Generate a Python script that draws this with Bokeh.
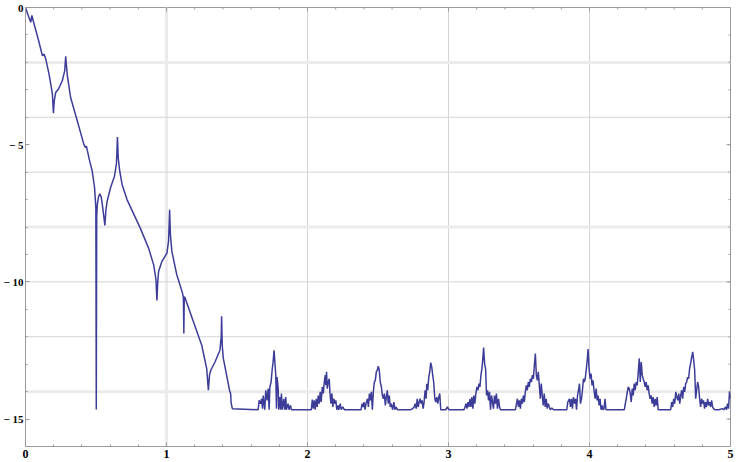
import math
from bokeh.plotting import figure
from bokeh.models import FixedTicker, Span, Range1d
from bokeh.embed import file_html
from bokeh.resources import INLINE

# ---- data (x, y) ----
decay = [(0.0, 0.0), (0.02, -0.3), (0.037, -0.54), (0.045, -0.29), (0.061, -0.6), (0.09, -1.15),
         (0.12, -1.76), (0.132, -1.70), (0.144, -1.88), (0.167, -2.43), (0.191, -3.16), (0.198, -3.85),
         (0.204, -3.4), (0.214, -3.10), (0.233, -2.98), (0.261, -2.67), (0.278, -2.31), (0.285, -1.78),
         (0.290, -2.1), (0.297, -2.49), (0.320, -3.28), (0.367, -4.13), (0.414, -4.99), (0.426, -5.11),
         (0.432, -5.05), (0.438, -5.2), (0.454, -5.57), (0.473, -5.96), (0.49, -6.57), (0.499, -7.31),
         (0.502, -14.65), (0.505, -7.6), (0.510, -7.15), (0.518, -6.9), (0.527, -6.79), (0.537, -6.9),
         (0.548, -7.3), (0.563, -7.94), (0.570, -7.4), (0.579, -7.06), (0.603, -6.57), (0.631, -6.15),
         (0.645, -5.7), (0.652, -4.72), (0.658, -5.5), (0.668, -5.95), (0.685, -6.45), (0.72, -7.0),
         (0.814, -8.04), (0.873, -8.77), (0.909, -9.38), (0.925, -9.9), (0.932, -10.68), (0.938, -10.0),
         (0.944, -9.62), (0.967, -9.26), (1.003, -8.95), (1.015, -8.5), (1.022, -7.37), (1.028, -8.3),
         (1.038, -8.89), (1.073, -9.74), (1.114, -10.42), (1.120, -10.6), (1.123, -11.88), (1.126, -10.55),
         (1.130, -10.56), (1.191, -11.45), (1.25, -12.31), (1.285, -13.16), (1.297, -13.95), (1.305, -13.4),
         (1.314, -13.22), (1.344, -12.92), (1.379, -12.49), (1.388, -12.0), (1.391, -11.25), (1.395, -12.3),
         (1.403, -12.79), (1.438, -13.71), (1.447, -13.95), (1.455, -14.08), (1.458, -14.4), (1.467, -14.62)]

cluster1 = [(1.650, -14.66), (1.657, -14.32), (1.667, -14.44), (1.674, -14.26), (1.681, -14.62), (1.686, -14.14),
            (1.697, -14.66), (1.704, -13.95), (1.714, -14.32), (1.721, -13.89), (1.728, -14.66), (1.733, -13.83),
            (1.742, -13.65), (1.749, -13.22), (1.756, -12.92), (1.763, -12.49), (1.770, -13.04), (1.775, -13.40),
            (1.780, -14.62), (1.784, -13.47), (1.792, -13.89), (1.796, -14.66), (1.803, -14.20), (1.810, -14.66),
            (1.815, -14.07), (1.822, -14.66), (1.832, -14.26), (1.839, -14.66), (1.846, -14.20), (1.850, -14.66),
            (1.862, -14.44), (1.869, -14.66), (1.879, -14.50), (1.886, -14.66)]

cluster2 = [(2.027, -14.66), (2.034, -14.29), (2.041, -14.62), (2.048, -14.32), (2.055, -14.66), (2.062, -14.26),
            (2.069, -14.56), (2.076, -14.14), (2.083, -14.44), (2.090, -14.01), (2.097, -14.38), (2.105, -13.83),
            (2.112, -14.07), (2.119, -13.65), (2.126, -13.40), (2.130, -13.77), (2.135, -13.28), (2.140, -13.89),
            (2.147, -13.65), (2.154, -13.53), (2.159, -14.01), (2.166, -14.44), (2.173, -14.07), (2.180, -14.56),
            (2.187, -14.26), (2.194, -14.44), (2.201, -14.32), (2.208, -14.66), (2.215, -14.50), (2.222, -14.66),
            (2.232, -14.44), (2.239, -14.66), (2.250, -14.56), (2.262, -14.66)]

cluster3 = [(2.380, -14.66), (2.387, -14.44), (2.394, -14.56), (2.401, -14.38), (2.408, -14.66), (2.415, -14.44),
            (2.425, -14.26), (2.432, -14.56), (2.439, -14.07), (2.446, -14.32), (2.453, -14.01), (2.460, -14.66),
            (2.467, -14.01), (2.474, -13.65), (2.481, -13.59), (2.488, -13.28), (2.495, -13.22), (2.502, -13.07),
            (2.509, -13.22), (2.516, -13.65), (2.524, -13.83), (2.531, -14.14), (2.538, -14.26), (2.545, -14.07),
            (2.552, -14.50), (2.559, -14.20), (2.566, -13.95), (2.573, -14.44), (2.580, -14.14), (2.587, -14.56),
            (2.594, -14.44), (2.604, -14.66), (2.613, -14.38), (2.620, -14.66), (2.627, -14.56), (2.639, -14.66)]

cluster4 = [(2.733, -14.66), (2.745, -14.62), (2.757, -14.56), (2.764, -14.44), (2.771, -14.62), (2.778, -14.26),
            (2.785, -14.56), (2.792, -14.38), (2.799, -14.26), (2.806, -14.44), (2.813, -14.32), (2.820, -14.62),
            (2.827, -14.38), (2.834, -13.95), (2.841, -14.26), (2.846, -13.71), (2.853, -13.95), (2.860, -13.47),
            (2.867, -13.28), (2.874, -12.94), (2.881, -13.10), (2.888, -13.40), (2.895, -13.65), (2.903, -14.26),
            (2.910, -14.38), (2.917, -14.20), (2.924, -14.44), (2.931, -14.20), (2.938, -14.07), (2.945, -14.66),
            (2.980, -14.66), (2.992, -14.56), (3.004, -14.66)]

cluster5 = [(3.110, -14.66), (3.117, -14.56), (3.124, -14.44), (3.131, -14.62), (3.138, -14.38), (3.145, -14.56),
            (3.152, -14.26), (3.159, -14.56), (3.166, -14.20), (3.173, -14.62), (3.180, -14.14), (3.187, -14.44),
            (3.194, -14.07), (3.202, -13.83), (3.209, -13.95), (3.216, -13.71), (3.223, -13.83), (3.230, -13.40),
            (3.237, -13.16), (3.244, -12.79), (3.249, -12.39), (3.256, -12.98), (3.263, -13.16), (3.270, -14.14),
            (3.277, -13.95), (3.284, -14.32), (3.291, -14.01), (3.298, -14.66), (3.305, -14.14), (3.312, -14.38),
            (3.319, -14.62), (3.326, -14.14), (3.333, -14.44), (3.340, -14.07), (3.347, -14.62), (3.355, -14.26),
            (3.362, -14.56), (3.369, -14.66), (3.392, -14.66)]

cluster6 = [(3.475, -14.66), (3.482, -14.44), (3.489, -14.26), (3.496, -14.56), (3.503, -14.32), (3.510, -14.62),
            (3.517, -14.26), (3.524, -14.44), (3.531, -14.14), (3.538, -14.38), (3.545, -14.01), (3.552, -13.77),
            (3.559, -13.95), (3.566, -13.65), (3.573, -13.83), (3.580, -13.53), (3.588, -13.65), (3.595, -13.40),
            (3.602, -13.53), (3.609, -13.04), (3.616, -12.61), (3.623, -13.40), (3.630, -13.59), (3.637, -13.28),
            (3.644, -13.77), (3.651, -14.26), (3.658, -13.71), (3.665, -14.14), (3.672, -14.50), (3.679, -14.07),
            (3.686, -14.56), (3.693, -14.26), (3.700, -14.62), (3.708, -14.44), (3.715, -14.56), (3.722, -14.66),
            (3.733, -14.60), (3.745, -14.66), (3.839, -14.66)]

cluster7 = [(3.846, -14.38), (3.858, -14.26), (3.865, -14.56), (3.872, -14.26), (3.879, -14.62), (3.886, -14.20),
            (3.894, -14.44), (3.901, -14.26), (3.908, -14.66), (3.915, -14.14), (3.922, -13.95), (3.929, -13.71),
            (3.936, -14.44), (3.943, -14.26), (3.950, -13.95), (3.957, -13.53), (3.964, -13.65), (3.971, -13.47),
            (3.978, -13.16), (3.985, -12.79), (3.990, -12.45), (3.997, -13.16), (4.004, -13.53), (4.011, -13.34),
            (4.018, -13.77), (4.025, -13.59), (4.032, -13.95), (4.040, -14.26), (4.047, -13.89), (4.054, -14.32),
            (4.061, -14.14), (4.068, -14.50), (4.075, -14.26), (4.082, -14.66), (4.089, -14.50), (4.096, -14.66),
            (4.103, -14.62), (4.110, -14.26), (4.117, -14.66), (4.129, -14.66)]

cluster8 = [(4.247, -14.66), (4.254, -14.44), (4.261, -14.26), (4.268, -14.01), (4.275, -13.83), (4.282, -13.89),
            (4.289, -14.07), (4.296, -14.38), (4.303, -13.89), (4.310, -14.14), (4.317, -13.71), (4.324, -13.95),
            (4.331, -13.65), (4.338, -13.77), (4.346, -13.28), (4.353, -12.79), (4.360, -13.65), (4.367, -12.92),
            (4.374, -13.40), (4.381, -13.53), (4.388, -13.65), (4.395, -13.83), (4.402, -13.65), (4.409, -13.95),
            (4.416, -13.77), (4.423, -14.07), (4.430, -14.26), (4.437, -14.14), (4.444, -14.44), (4.451, -14.20),
            (4.459, -14.56), (4.466, -14.26), (4.473, -14.50), (4.480, -14.20), (4.487, -14.66), (4.494, -14.66)]

cluster9 = [(4.576, -14.66), (4.583, -14.38), (4.590, -14.56), (4.597, -14.26), (4.604, -14.44), (4.612, -14.01),
            (4.619, -14.20), (4.626, -14.32), (4.633, -14.07), (4.640, -14.44), (4.647, -14.14), (4.654, -13.95),
            (4.661, -14.26), (4.668, -13.83), (4.675, -14.01), (4.682, -13.71), (4.689, -13.65), (4.696, -13.47),
            (4.703, -13.53), (4.710, -13.16), (4.717, -12.98), (4.725, -12.73), (4.732, -12.55), (4.739, -12.86),
            (4.746, -13.22), (4.753, -14.26), (4.760, -13.95), (4.767, -13.65), (4.774, -13.83), (4.781, -14.26),
            (4.788, -14.56), (4.795, -14.26), (4.802, -14.44), (4.809, -14.32), (4.816, -14.62), (4.823, -14.38),
            (4.830, -14.56), (4.838, -14.26), (4.845, -14.50), (4.852, -14.38), (4.859, -14.56), (4.866, -14.32),
            (4.873, -14.56), (4.880, -14.62), (4.889, -14.66), (4.918, -14.66), (4.941, -14.62), (4.953, -14.66),
            (4.965, -14.56), (4.972, -14.66), (4.979, -14.44), (4.986, -14.62), (4.993, -14.01), (5.000, -14.26)]

x_major = [0, 1, 2, 3, 4, 5]
x_minor = [i / 5 for i in range(26)]
y_major = [0, -5, -10, -15]
y_minor = list(range(-16, 1))
y_labels = {0: "0", -5: "\u2212 5", -10: "\u2212 10", -15: "\u2212 15"}
grid_x_thick = [1]
grid_x_thin = [2, 3, 4]
grid_y_thick = [-2, -8, -14]
grid_y_thin = [-4, -6, -10, -12]
X_LO, X_HI = 0, 5
Y_LO, Y_HI = -16.0, 0

segments = [decay, cluster1, cluster2, cluster3, cluster4, cluster5, cluster6, cluster7, cluster8, cluster9]
xs, ys = [], []
for seg in segments:
    for a, b in seg:
        xs.append(a)
        ys.append(b)

FRAME = "#9a9a9a"
p = figure(width=734, height=460, output_backend="svg", toolbar_location=None,
           x_range=Range1d(X_LO, X_HI), y_range=Range1d(Y_LO, Y_HI),
           min_border_left=2, min_border_right=4, min_border_top=7, min_border_bottom=0)
p.xgrid.visible = False
p.ygrid.visible = False
p.outline_line_color = FRAME
p.background_fill_color = "white"

for loc in grid_x_thick:
    p.add_layout(Span(location=loc, dimension="height", line_color="#ebebeb", line_width=3, level="underlay"))
for loc in grid_x_thin:
    p.add_layout(Span(location=loc, dimension="height", line_color="#d4d4d4", line_width=1, level="underlay"))
for loc in grid_y_thick:
    p.add_layout(Span(location=loc, dimension="width", line_color="#ebebeb", line_width=3, level="underlay"))
for loc in grid_y_thin:
    p.add_layout(Span(location=loc, dimension="width", line_color="#d4d4d4", line_width=1, level="underlay"))

# mirrored ticks on the top and right frame edges (inward)
p.ray(x=x_minor, y=[Y_HI] * len(x_minor), length=2, length_units="screen", angle=-math.pi / 2,
      line_color=FRAME, line_width=1)
p.ray(x=x_major, y=[Y_HI] * len(x_major), length=4, length_units="screen", angle=-math.pi / 2,
      line_color=FRAME, line_width=1)
p.ray(x=[X_HI] * len(y_minor), y=y_minor, length=2, length_units="screen", angle=math.pi,
      line_color=FRAME, line_width=1)
p.ray(x=[X_HI] * len(y_major), y=y_major, length=4, length_units="screen", angle=math.pi,
      line_color=FRAME, line_width=1)

p.line(xs, ys, line_color="#3d3d99", line_width=1.5)


def style(ax, ticks, minor):
    ax.ticker = FixedTicker(ticks=ticks, minor_ticks=minor)
    ax.axis_line_color = FRAME
    ax.major_tick_line_color = FRAME
    ax.minor_tick_line_color = FRAME
    ax.major_tick_in = 4
    ax.major_tick_out = 0
    ax.minor_tick_in = 2
    ax.minor_tick_out = 0
    ax.major_label_text_font = "Liberation Serif"
    ax.major_label_text_font_style = "bold"
    ax.major_label_text_font_size = "12px"
    ax.major_label_text_color = "#000000"
    ax.major_label_standoff = 3


style(p.xaxis[0], x_major, x_minor)
style(p.yaxis[0], y_major, y_minor)
p.yaxis[0].major_label_overrides = y_labels
p.yaxis[0].major_label_text_font_size = "11px"
p.yaxis[0].major_label_standoff = 2

open("out.html", "w").write(file_html(p, INLINE))
